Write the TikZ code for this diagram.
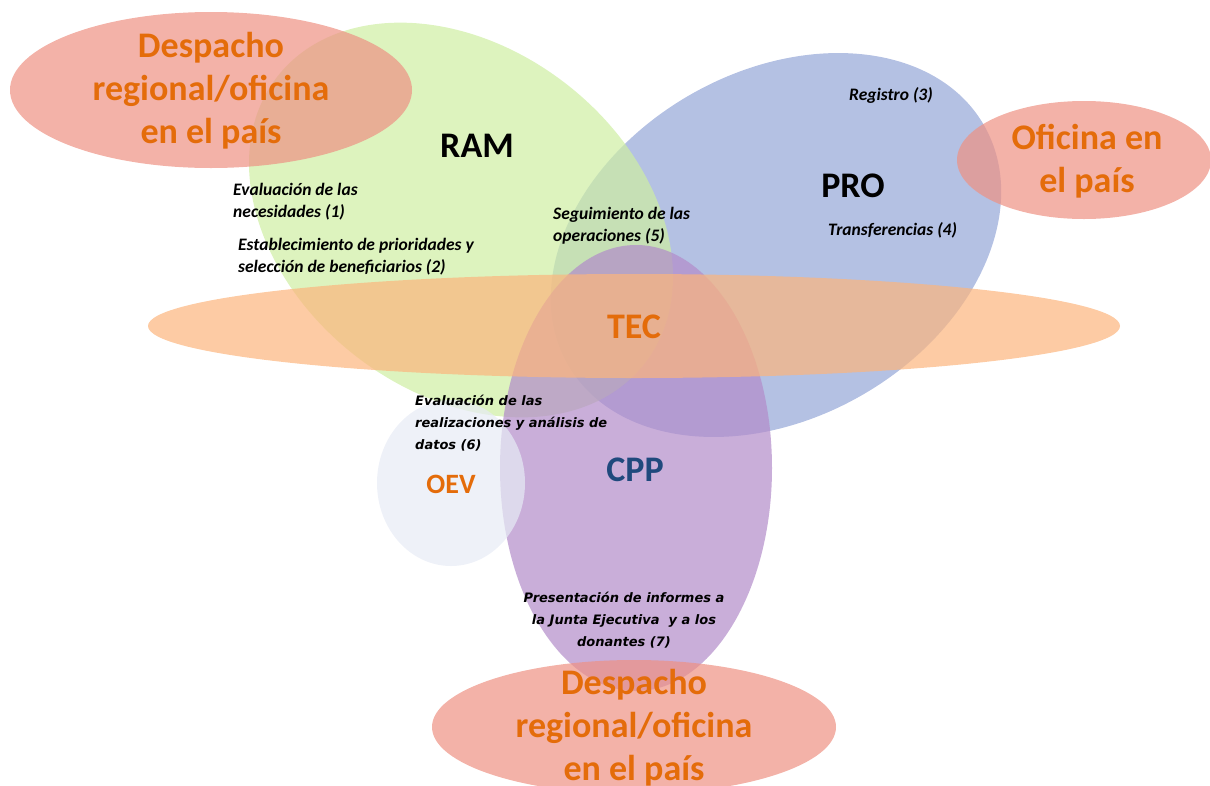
\documentclass[tikz,border=0pt]{standalone}
\usepackage{fontspec}
\setmainfont{Carlito}
\newfontfamily\verdfont{DejaVu Sans}
\usepackage{tikz}
\definecolor{ramgreen}{RGB}{206,238,163}
\definecolor{problue}{RGB}{148,166,215}
\definecolor{tecpeach}{RGB}{252,181,125}
\definecolor{cpppurple}{RGB}{178,139,201}
\definecolor{oevgrey}{RGB}{231,235,245}
\definecolor{officesalmon}{RGB}{238,145,131}
\definecolor{labelorange}{RGB}{228,108,10}
\definecolor{cppblue}{RGB}{31,73,125}

\begin{document}
\begin{tikzpicture}[x=1pt,y=-1pt,
	blob/.style={fill opacity=0.7},
	big/.style={font=\fontsize{36}{43}\selectfont\bfseries, align=center, inner sep=0pt},
	task/.style={font=\fontsize{17.5}{22}\selectfont\bfseries\itshape, align=left, anchor=west, inner sep=0pt},
	taskv/.style={font=\verdfont\fontsize{13}{22}\selectfont\bfseries\itshape, inner sep=0pt}]
			\useasboundingbox (0,0) rectangle (1210,785);
			\clip (0,0) rectangle (1210,785);
			% units
			\fill[blob, problue, rotate around={30:(776,245)}] (776,245) ellipse [x radius=240, y radius=173];
			\fill[blob, ramgreen, rotate around={-38:(461,220)}] (461,220) ellipse [x radius=233, y radius=172];
			\fill[blob, cpppurple] (636,468) ellipse [x radius=136, y radius=223];
			\fill[blob, tecpeach] (634,326) ellipse [x radius=486, y radius=52];
			\fill[blob, oevgrey] (451,483) ellipse [x radius=74, y radius=83];
			% offices
			\fill[blob, officesalmon] (211,90) ellipse [x radius=201, y radius=78];
			\fill[blob, officesalmon] (1084,160) ellipse [x radius=127, y radius=59];
			\fill[blob, officesalmon] (634,727) ellipse [x radius=202, y radius=67];
			% labels
			\node[big, labelorange] (desp1) at (211,91) {Despacho\\regional/oficina\\en el país};
			\node[big, labelorange] (ofic) at (1087,161) {Oficina en\\el país};
			\node[big, labelorange] (desp2) at (634,728) {Despacho\\regional/oficina\\en el país};
			\node[big] (ram) at (477,146) {RAM};
			\node[big] (pro) at (853,186) {PRO};
			\node[big, labelorange] (tec) at (634,327) {TEC};
			\node[big, cppblue] (cpp) at (635,470) {CPP};
			\node[big, labelorange, font=\fontsize{28}{34}\selectfont\bfseries] (oev) at (451,484) {OEV};
			\node[task] (t1) at (233,202) {Evaluación de las\\necesidades (1)};
			\node[task] (t2) at (238,257) {Establecimiento de prioridades y\\selección de beneficiarios (2)};
			\node[task] (t3) at (849,95) {Registro (3)};
			\node[task] (t4) at (828,230) {Transferencias (4)};
			\node[task] (t5) at (553,226) {Seguimiento de las\\operaciones (5)};
			\node[taskv, anchor=west, align=left] (t6) at (415,423) {Evaluación de las\\realizaciones y análisis de\\datos (6)};
			\node[taskv, align=center] (t7) at (624,620) {Presentación de informes a\\la Junta Ejecutiva\ \ y a los\\donantes (7)};
		\end{tikzpicture}
\end{document}
